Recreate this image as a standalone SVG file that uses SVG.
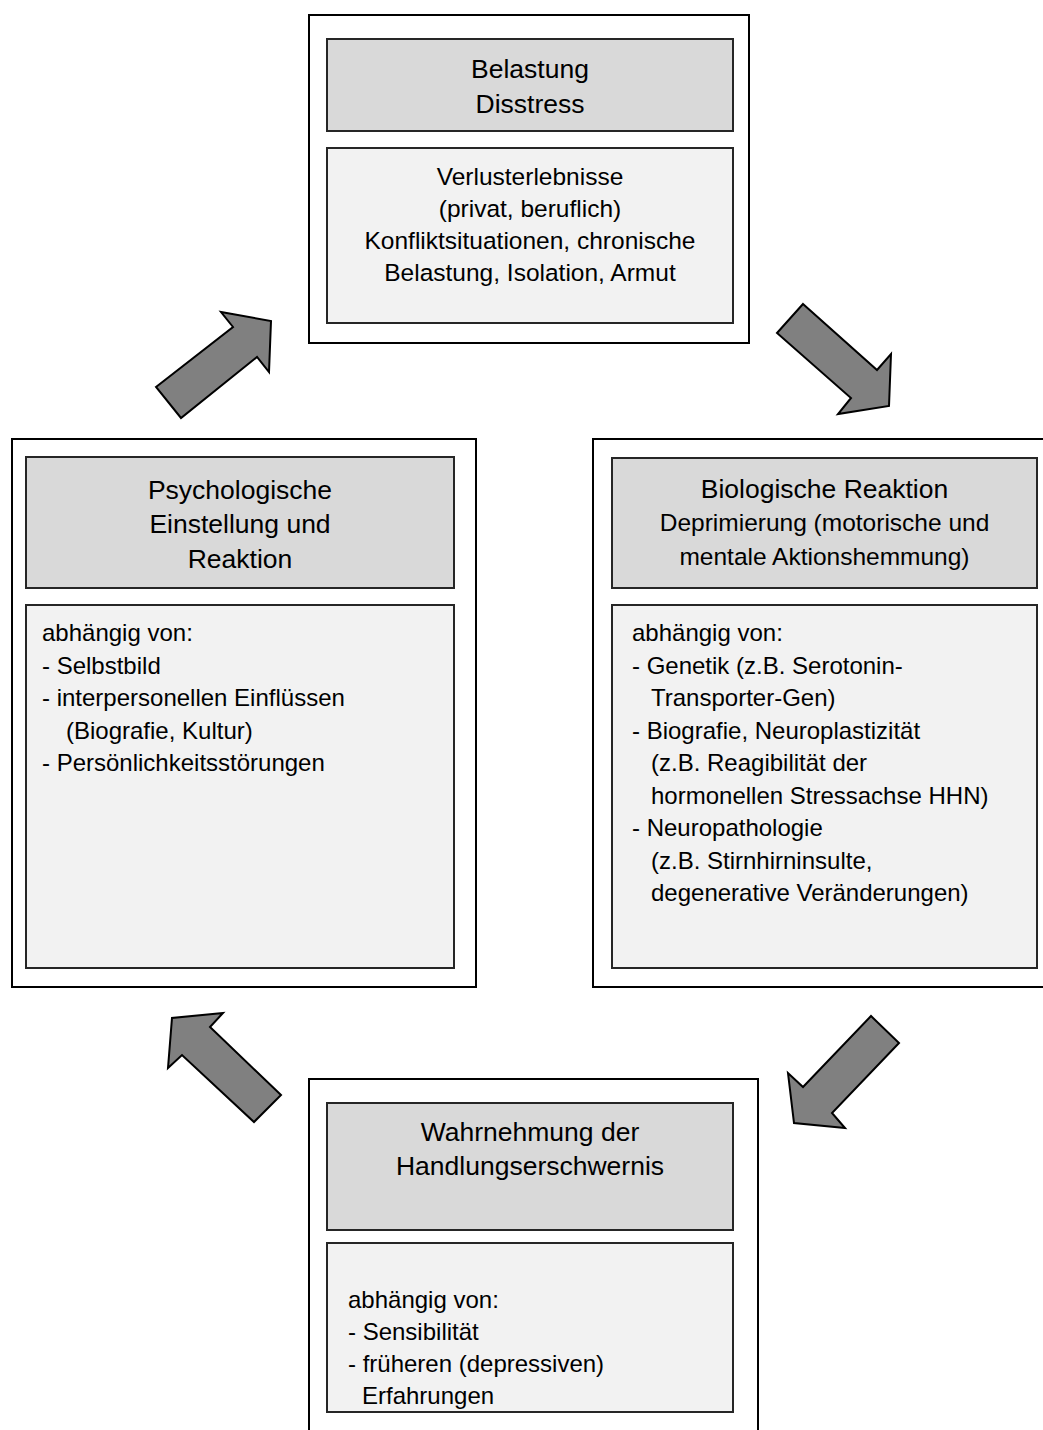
<svg xmlns="http://www.w3.org/2000/svg" width="1043" height="1430" viewBox="0 0 1043 1430">
<style>
.outer{fill:#ffffff;stroke:#000;stroke-width:2}
.head{fill:#d9d9d9;stroke:#262626;stroke-width:2}
.body{fill:#f2f2f2;stroke:#262626;stroke-width:2}
.arrow{fill:#808080;stroke:#000;stroke-width:2;stroke-linejoin:miter}
text{font-family:"Liberation Sans",Arial,sans-serif;fill:#000}
.ht{font-size:26.5px;text-anchor:middle}
.st{font-size:24.5px;text-anchor:middle}
.bt{font-size:24px}
</style>
<rect width="1043" height="1430" fill="#ffffff"/>
<g id="node-belastung">
<rect class="outer" x="309" y="15" width="440" height="328"/>
<rect class="head" x="327" y="39" width="406" height="92"/>
<rect class="body" x="327" y="148" width="406" height="175"/>
<text class="ht" x="530" y="78">Belastung</text>
<text class="ht" x="530" y="113">Disstress</text>
<text class="st" x="530" y="185">Verlusterlebnisse</text>
<text class="st" x="530" y="217">(privat, beruflich)</text>
<text class="st" x="530" y="249">Konfliktsituationen, chronische</text>
<text class="st" x="530" y="281">Belastung, Isolation, Armut</text>
</g>
<g id="node-psychologisch">
<rect class="outer" x="12" y="439" width="464" height="548"/>
<rect class="head" x="26" y="457" width="428" height="131"/>
<rect class="body" x="26" y="605" width="428" height="363"/>
<text class="ht" x="240" y="499">Psychologische</text>
<text class="ht" x="240" y="533">Einstellung und</text>
<text class="ht" x="240" y="568">Reaktion</text>
<text class="bt" x="42" y="641">abhängig von:</text>
<text class="bt" x="42" y="673.5">- Selbstbild</text>
<text class="bt" x="42" y="706">- interpersonellen Einflüssen</text>
<text class="bt" x="66" y="738.5">(Biografie, Kultur)</text>
<text class="bt" x="42" y="771">- Persönlichkeitsstörungen</text>
</g>
<g id="node-biologisch">
<rect class="outer" x="593" y="439" width="460" height="548"/>
<rect class="head" x="612" y="458" width="425" height="130"/>
<rect class="body" x="612" y="605" width="425" height="363"/>
<text class="ht" x="824.5" y="498">Biologische Reaktion</text>
<text class="st" x="824.5" y="531">Deprimierung (motorische und</text>
<text class="st" x="824.5" y="565">mentale Aktionshemmung)</text>
<text class="bt" x="632" y="641">abhängig von:</text>
<text class="bt" x="632" y="673.5">- Genetik (z.B. Serotonin-</text>
<text class="bt" x="651" y="706">Transporter-Gen)</text>
<text class="bt" x="632" y="738.5">- Biografie, Neuroplastizität</text>
<text class="bt" x="651" y="771">(z.B. Reagibilität der</text>
<text class="bt" x="651" y="803.5">hormonellen Stressachse HHN)</text>
<text class="bt" x="632" y="836">- Neuropathologie</text>
<text class="bt" x="651" y="868.5">(z.B. Stirnhirninsulte,</text>
<text class="bt" x="651" y="901">degenerative Veränderungen)</text>
</g>
<g id="node-wahrnehmung">
<rect class="outer" x="309" y="1079" width="449" height="370"/>
<rect class="head" x="327" y="1103" width="406" height="127"/>
<rect class="body" x="327" y="1243" width="406" height="169"/>
<text class="ht" x="530" y="1141">Wahrnehmung der</text>
<text class="ht" x="530" y="1175">Handlungserschwernis</text>
<text class="bt" x="348" y="1308">abhängig von:</text>
<text class="bt" x="348" y="1340">- Sensibilität</text>
<text class="bt" x="348" y="1372">- früheren (depressiven)</text>
<text class="bt" x="362" y="1404">Erfahrungen</text>
</g>
<g id="connectors">
<polygon class="arrow" points="156,387 233,327 221,312 271,321 269,372 257,357 181,418"/>
<polygon class="arrow" points="803,304 877,370 891,354 889,406 838,414 851,398 777,333"/>
<polygon class="arrow" points="899,1043 832,1113 845,1128 794,1123 788,1073 803,1087 871,1016"/>
<polygon class="arrow" points="281,1095 210,1027 223,1013 172,1018 168,1068 182,1055 254,1122"/>
</g>
</svg>
